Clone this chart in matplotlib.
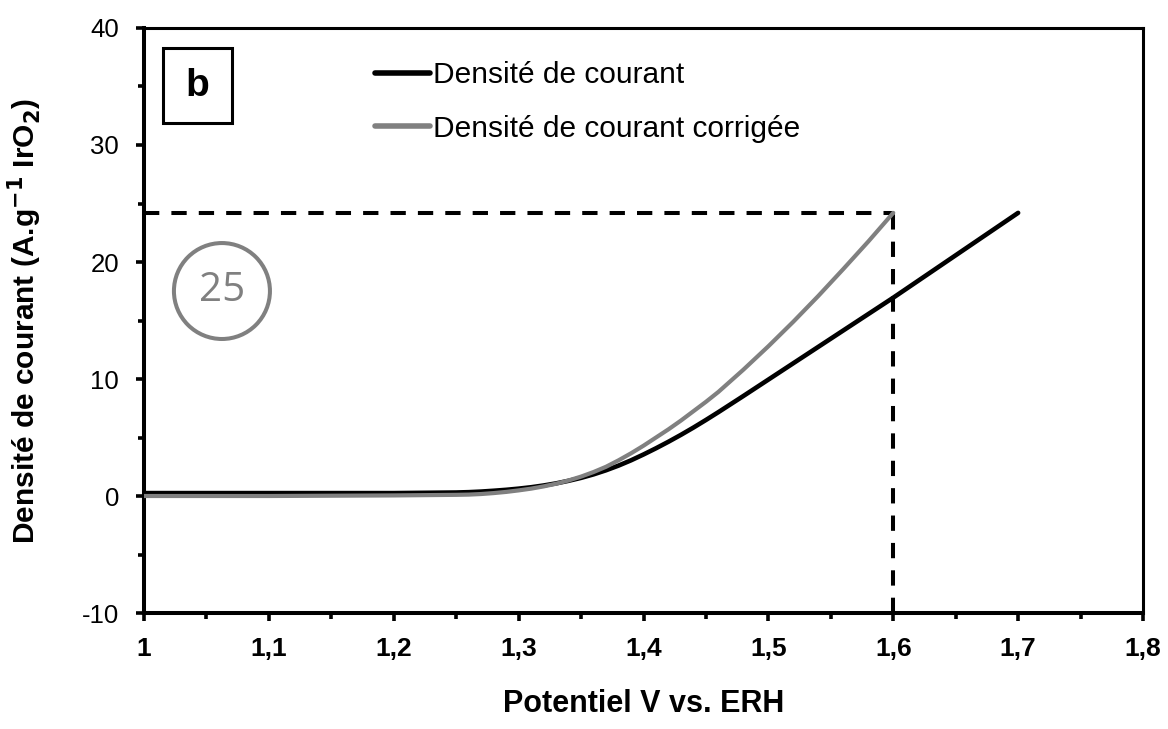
#!/usr/bin/env python3
"""
Courbe de polarisation : densité de courant brute et corrigée
"""

import matplotlib
matplotlib.use('Agg')
import matplotlib.pyplot as plt
from matplotlib.patches import Rectangle, Ellipse
from matplotlib.ticker import MultipleLocator, FuncFormatter

# Potentiel (V vs. ERH)
potential = [1.00, 1.10, 1.20,
             1.25, 1.26, 1.27, 1.28, 1.29, 1.30, 1.31, 1.32, 1.33, 1.34,
             1.35, 1.36, 1.37, 1.38, 1.39, 1.40, 1.41, 1.42, 1.43, 1.44,
             1.45, 1.46,
             1.48, 1.50, 1.52, 1.54, 1.56, 1.58, 1.60,
             1.62, 1.64, 1.66, 1.68, 1.70]

# Densité de courant (A/g IrO2)
current = [0.25, 0.25, 0.25,
           0.30, 0.33, 0.38, 0.45, 0.53, 0.63, 0.75, 0.90, 1.08, 1.30,
           1.55, 1.85, 2.20, 2.60, 3.05, 3.55, 4.08, 4.64, 5.23, 5.85,
           6.50, 7.17,
           8.55, 9.95, 11.35, 12.75, 14.15, 15.55, 16.95,
           18.4, 19.85, 21.3, 22.75, 24.2]

# Densité de courant corrigée (s'arrête à 1,6 V)
potential_corr = potential[:32]
current_corr = [0.00, 0.00, 0.05,
                0.10, 0.12, 0.17, 0.25, 0.35, 0.48, 0.63, 0.82, 1.05, 1.33,
                1.66, 2.05, 2.50, 3.05, 3.65, 4.30, 5.00, 5.70, 6.45, 7.25,
                8.05, 8.90,
                10.8, 12.8, 14.9, 17.1, 19.4, 21.75, 24.2]

# Repère pointillé
ref_potential = 1.6
ref_current = 24.2
circle_label = '25'

legend_labels = ['Densité de courant', 'Densité de courant corrigée']

plt.rcParams['font.family'] = ['Liberation Sans', 'DejaVu Sans']

fig = plt.figure(figsize=(11.68, 7.29), dpi=100)
ax = fig.add_axes([0.1233, 0.1591, 0.8553, 0.8025])

ax.plot(potential, current, color='black', lw=3.3,
        solid_capstyle='round', label=legend_labels[0], zorder=3)
ax.plot(potential_corr, current_corr, color='#808080', lw=3.0,
        solid_capstyle='round', label=legend_labels[1], zorder=4)

# lignes pointillées vers 1,6 V
dash = (0, (3.8, 3.0))
ax.plot([1.0, ref_potential], [ref_current, ref_current], color='black',
        lw=2.9, linestyle=dash, zorder=2)
ax.plot([ref_potential, ref_potential], [-10, ref_current], color='black',
        lw=2.9, linestyle=dash, zorder=2)

ax.set_xlim(1.0, 1.8)
ax.set_ylim(-10, 40)

ax.xaxis.set_major_locator(MultipleLocator(0.1))
ax.xaxis.set_minor_locator(MultipleLocator(0.05))
ax.yaxis.set_major_locator(MultipleLocator(10))
ax.yaxis.set_minor_locator(MultipleLocator(5))

def comma_fmt(v, pos):
    s = f'{v:.1f}'.rstrip('0').rstrip('.')
    return s.replace('.', ',')

ax.xaxis.set_major_formatter(FuncFormatter(comma_fmt))
ax.yaxis.set_major_formatter(FuncFormatter(lambda v, p: f'{v:.0f}'))

ax.tick_params(axis='both', which='major', direction='out', length=6,
               width=2.6)
ax.tick_params(axis='both', which='minor', direction='out', length=4,
               width=2.6)
ax.tick_params(axis='x', which='major', labelsize=19, pad=11)
ax.tick_params(axis='y', which='major', labelsize=18.5, pad=12)
ax.tick_params(top=False, right=False, which='both')
for lbl in ax.get_xticklabels():
    lbl.set_fontweight('bold')

for side in ['left', 'bottom']:
    ax.spines[side].set_linewidth(2.9)
for side in ['top', 'right']:
    ax.spines[side].set_linewidth(2.2)

ax.set_xlabel('Potentiel V vs. ERH', fontsize=22, fontweight='bold')
ax.set_ylabel(r'Densité de courant (A.g$^{\mathbf{-1}}$ IrO$_{\mathbf{2}}$)',
              fontsize=21.5, fontweight='bold')
ax.xaxis.set_label_coords(0.5, -0.13)
ax.yaxis.set_label_coords(-0.100, 0.5)

leg = ax.legend(loc='upper left', bbox_to_anchor=(0.231, 0.943),
                frameon=False, fontsize=21.5, handlelength=1.84,
                handletextpad=0.1, labelspacing=0.85, borderpad=0,
                borderaxespad=0)
for line in leg.get_lines():
    line.set_linewidth(4)

# encadré "b"
ax.add_patch(Rectangle((0.019, 0.8376), 0.069, 0.128,
                       transform=ax.transAxes, fill=False,
                       edgecolor='black', lw=2.2, zorder=5))
ax.text(0.0536, 0.900, 'b', transform=ax.transAxes, ha='center',
        va='center', fontsize=28, fontweight='bold')

# cercle "25"
ax.add_patch(Ellipse((0.078, 0.5504), 0.0961, 0.164,
                     transform=ax.transAxes, fill=False,
                     edgecolor='#808080', lw=2.9, zorder=5))
ax.text(0.078, 0.5504, circle_label, transform=ax.transAxes, ha='center',
        va='center', fontsize=29, color='#808080', family='Open Sans')

fig.savefig('out.png', dpi=100)
